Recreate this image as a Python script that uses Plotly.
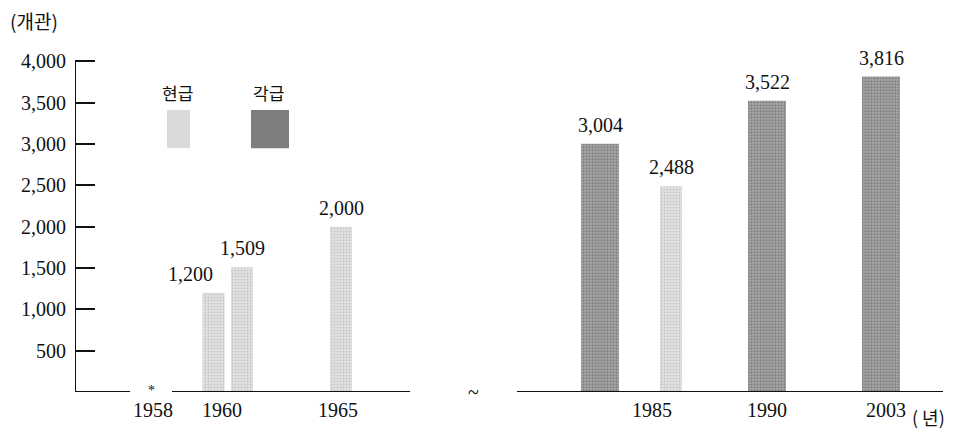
import plotly.graph_objects as go

# ---- data ----
light_name = "현급"
dark_name = "각급"
light_values = [1200, 1509, 2000, 2488]
dark_values = [3004, 3522, 3816]
year_labels = ["1958", "1960", "1965", "1985", "1990", "2003"]
y_ticks = [500, 1000, 1500, 2000, 2500, 3000, 3500, 4000]

# ---- layout slots (schematic, broken x axis) ----
light_slots = [138.5, 167, 266, 596]
dark_slots = [525, 692, 806]
year_slots = [78, 147, 263, 577, 692, 811]
light_label_shift = [-23, 0, 0, 0]
dark_label_shift = [0, 0, 0]

SERIF = "Liberation Serif, Times New Roman, serif"
KR = "Noto Sans CJK KR, sans-serif"
LIGHT = "#d4d4d4"
DARK = "#8e8e8e"

fig = go.Figure()
fig.add_trace(go.Bar(
    x=light_slots, y=light_values, width=22, name=light_name,
    marker=dict(color=LIGHT, line=dict(width=0),
                pattern=dict(shape=".", fgcolor="#a8a8a8", bgcolor="#e2e2e2", size=3, solidity=0.35)),
))
fig.add_trace(go.Bar(
    x=dark_slots, y=dark_values, width=38, name=dark_name,
    marker=dict(color=DARK, line=dict(width=0),
                pattern=dict(shape=".", fgcolor="#5a5a5a", bgcolor="#a8a8a8", size=3, solidity=0.45)),
))

shapes = []
# y axis line
shapes.append(dict(type="line", xref="x", yref="y", x0=0, x1=0, y0=0, y1=4000,
                   line=dict(color="#111", width=2)))
# broken baseline segments
for a, b in [(0, 55), (97, 335), (442, 868)]:
    shapes.append(dict(type="line", xref="x", yref="y", x0=a, x1=b, y0=0, y1=0,
                       line=dict(color="#111", width=2)))
# legend swatches
shapes.append(dict(type="rect", xref="x", yref="y", x0=92, x1=115, y0=2950, y1=3410,
                   fillcolor="#dadada", line=dict(width=0), layer="above"))
shapes.append(dict(type="rect", xref="x", yref="y", x0=176, x1=214, y0=2950, y1=3410,
                   fillcolor="#7e7e7e", line=dict(width=0), layer="above"))

annotations = []
# value labels above bars (from the data)
for xs, vals, shifts in [(light_slots, light_values, light_label_shift),
                         (dark_slots, dark_values, dark_label_shift)]:
    for x, v, s in zip(xs, vals, shifts):
        annotations.append(dict(text=f"{v:,}", x=x, y=v, xref="x", yref="y",
                                showarrow=False, yanchor="bottom", yshift=6, xshift=s,
                                font=dict(family=SERIF, size=20, color="#111")))

annotations += [
    dict(text=light_name, x=102, y=3620, xref="x", yref="y", showarrow=False,
         font=dict(family=KR, size=17, color="#111")),
    dict(text=dark_name, x=193, y=3620, xref="x", yref="y", showarrow=False,
         font=dict(family=KR, size=17, color="#111")),
    dict(text="(개관)", x=-67 / 870, y=1.0, xref="paper", yref="paper", xanchor="left",
         yanchor="middle", showarrow=False, font=dict(family=KR, size=19, color="#111")),
    dict(text="*", x=76, y=0, xref="x", yref="y", showarrow=False,
         font=dict(family=SERIF, size=14, color="#111"), yanchor="middle", yshift=2),
    dict(text="~", x=398, y=0, xref="x", yref="y", showarrow=False,
         font=dict(family=SERIF, size=20, color="#111"), yanchor="middle", yshift=0),
    dict(text="( 년)", x=(939 - 67) / 870, y=-25 / 372, xref="paper", yref="paper",
         showarrow=False, yanchor="middle", xanchor="right",
         font=dict(family=KR, size=18, color="#111")),
]

fig.update_layout(
    width=945, height=422,
    margin=dict(l=67, r=8, t=12, b=38, autoexpand=False),
    plot_bgcolor="white", paper_bgcolor="white",
    barmode="overlay", showlegend=False,
    shapes=shapes, annotations=annotations,
    xaxis=dict(range=[0, 870], showgrid=False, zeroline=False, showline=False,
               automargin=False,
               tickmode="array", tickvals=year_slots, ticktext=year_labels,
               ticks="", tickfont=dict(family=SERIF, size=20, color="#111"),
               ticklabelstandoff=4),
    yaxis=dict(range=[0, 4500], showgrid=False, zeroline=False, showline=False,
               automargin=False,
               tickmode="array", tickvals=y_ticks,
               ticktext=[f"{v:,}" for v in y_ticks],
               ticks="inside", ticklen=20, tickwidth=2, tickcolor="#111",
               tickfont=dict(family=SERIF, size=20, color="#111"),
               ticklabelstandoff=8),
)

fig.write_html("out.html")
